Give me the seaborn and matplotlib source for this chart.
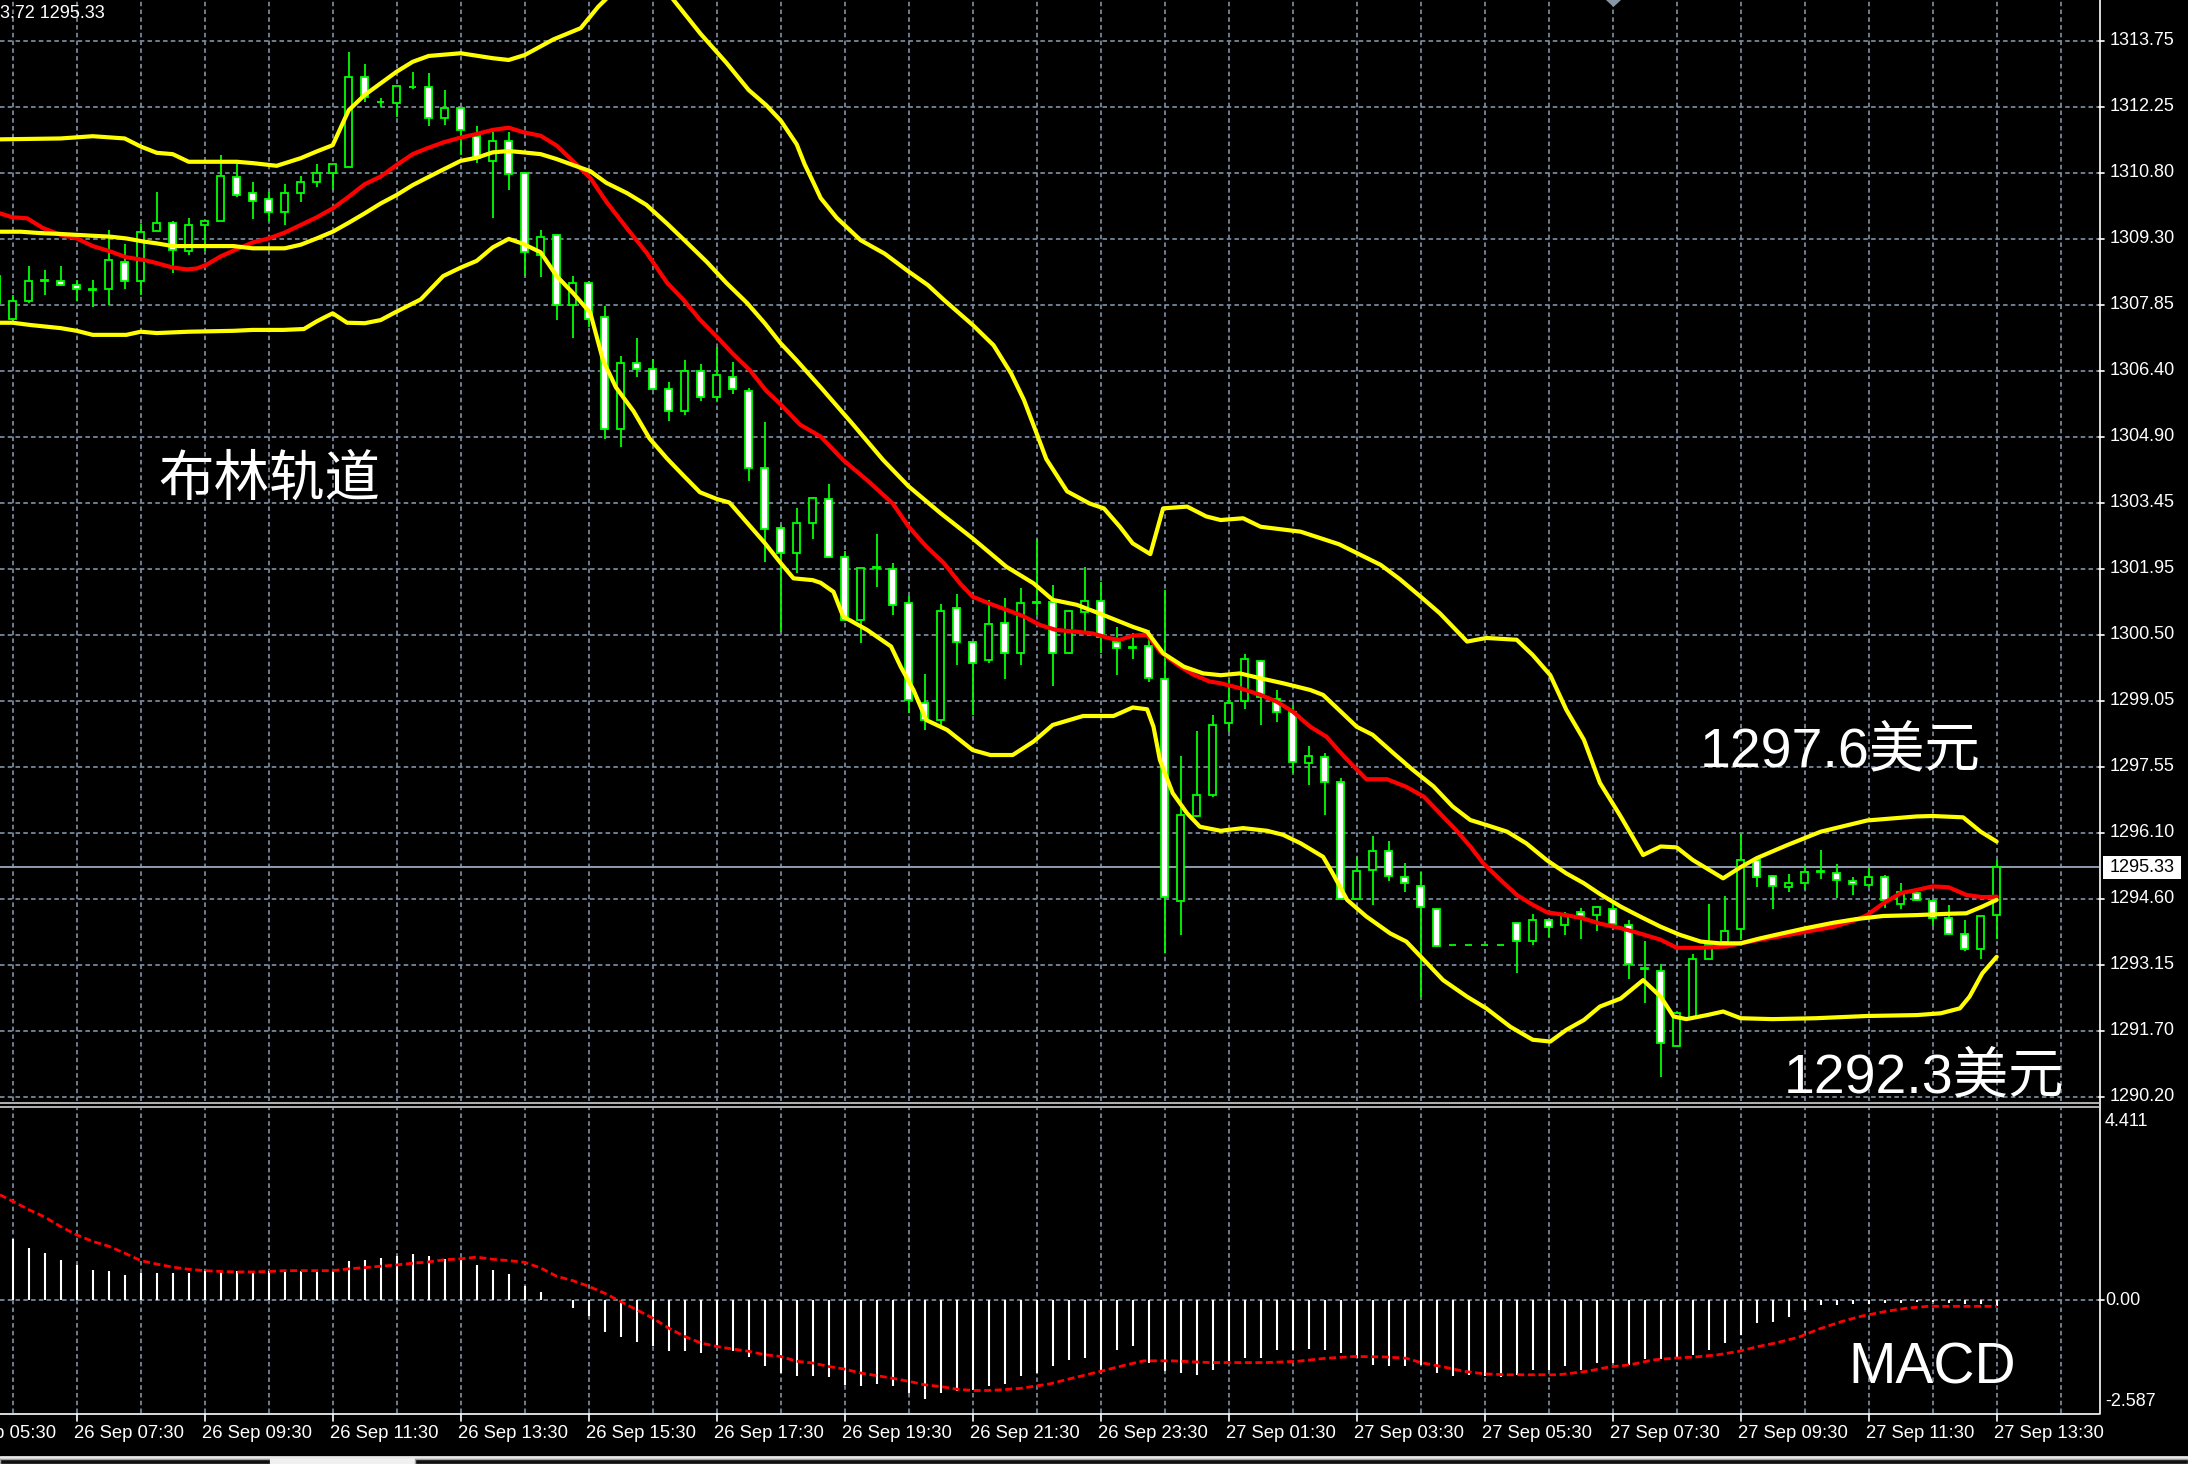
import numpy as np
import matplotlib
matplotlib.use("Agg")
import matplotlib.pyplot as plt
from matplotlib.lines import Line2D
from matplotlib.patches import Polygon, Rectangle
import seaborn as sns

# ---- candles, M15, index 0 = 26 Sep 06:30 ----
bar_idx = list(range(-1, 125))
opens = [1307.90, 1307.54, 1307.95, 1308.40, 1308.39, 1308.30, 1308.20, 1308.22, 1308.81, 1308.40,
         1309.51, 1309.69, 1309.07, 1309.64, 1309.73, 1310.72, 1310.36, 1310.23, 1309.92, 1310.36,
         1310.59, 1310.79, 1310.94, 1312.95, 1312.39, 1312.37, 1312.71, 1312.71, 1312.02, 1312.24,
         1311.63, 1311.07, 1311.52, 1310.80, 1308.96, 1309.42, 1307.86, 1308.35, 1307.59, 1305.10,
         1306.56, 1306.43, 1305.98, 1305.49, 1306.39, 1305.81, 1306.26, 1305.94, 1304.21, 1302.88,
         1302.32, 1303.00, 1303.53, 1302.24, 1300.82, 1302.00, 1301.96, 1301.22, 1298.99, 1298.59,
         1301.09, 1300.33, 1299.93, 1300.77, 1300.10, 1301.22, 1301.24, 1300.10, 1301.02, 1301.26,
         1300.35, 1300.21, 1300.24, 1299.51, 1294.57, 1296.46, 1296.93, 1298.53, 1299.03, 1299.92,
         1299.08, 1298.77, 1297.65, 1297.77, 1297.21, 1294.62, 1295.26, 1295.67, 1295.11, 1294.89,
         1294.38, 1293.58, 1293.58, 1293.58, 1293.58, 1294.07, 1293.68, 1294.13, 1294.03, 1294.31,
         1294.25, 1294.38, 1294.03, 1293.06, 1293.01, 1291.33, 1291.95, 1293.26, 1293.66, 1293.93,
         1295.47, 1295.12, 1294.87, 1294.97, 1295.22, 1295.18, 1295.01, 1294.92, 1295.11, 1294.50,
         1294.74, 1294.57, 1294.18, 1293.83, 1293.49, 1294.25]
highs = [1308.93, 1308.08, 1308.73, 1308.64, 1308.73, 1308.41, 1308.41, 1309.53, 1309.22, 1309.66,
         1310.37, 1309.74, 1309.79, 1309.75, 1311.20, 1311.02, 1310.59, 1310.37, 1310.56, 1310.73,
         1311.00, 1311.00, 1313.50, 1313.23, 1312.47, 1312.73, 1313.06, 1313.04, 1312.65, 1312.25,
         1311.84, 1311.71, 1311.71, 1310.82, 1309.52, 1309.44, 1308.50, 1308.38, 1307.83, 1306.71,
         1307.11, 1306.66, 1306.13, 1306.62, 1306.53, 1306.92, 1306.58, 1306.00, 1305.25, 1302.95,
         1303.32, 1303.58, 1303.87, 1302.38, 1302.00, 1302.75, 1302.10, 1301.37, 1299.63, 1301.19,
         1301.41, 1300.35, 1301.28, 1301.32, 1301.54, 1302.63, 1301.61, 1301.05, 1302.02, 1301.67,
         1300.68, 1300.54, 1300.60, 1301.50, 1297.80, 1298.36, 1298.71, 1299.49, 1300.07, 1299.94,
         1299.26, 1298.94, 1298.02, 1297.87, 1297.30, 1295.55, 1296.01, 1295.91, 1295.42, 1295.20,
         1294.39, 1293.58, 1293.58, 1293.58, 1293.58, 1294.08, 1294.28, 1294.16, 1294.33, 1294.40,
         1294.45, 1294.51, 1294.14, 1293.68, 1293.16, 1292.08, 1293.38, 1294.50, 1294.68, 1296.06,
         1295.48, 1295.15, 1295.17, 1295.35, 1295.70, 1295.39, 1295.11, 1295.29, 1295.15, 1294.97,
         1294.77, 1294.62, 1294.48, 1294.13, 1294.22, 1295.48]
lows = [1307.52, 1307.49, 1307.89, 1308.07, 1308.27, 1307.95, 1307.81, 1307.85, 1308.21, 1308.07,
        1309.51, 1308.56, 1308.97, 1309.05, 1309.73, 1310.26, 1309.77, 1309.72, 1309.63, 1310.16,
        1310.48, 1310.41, 1310.94, 1312.39, 1312.27, 1312.04, 1312.67, 1311.85, 1311.86, 1311.20,
        1311.03, 1309.80, 1310.43, 1308.50, 1308.47, 1307.52, 1307.13, 1307.37, 1304.87, 1304.70,
        1306.24, 1305.96, 1305.26, 1305.40, 1305.72, 1305.72, 1305.88, 1303.92, 1302.13, 1300.57,
        1301.87, 1302.63, 1302.24, 1300.80, 1300.31, 1301.56, 1300.94, 1298.75, 1298.38, 1298.49,
        1299.83, 1298.71, 1299.87, 1299.51, 1299.83, 1300.94, 1299.36, 1300.08, 1300.55, 1300.10,
        1299.61, 1299.96, 1299.45, 1293.41, 1293.81, 1296.43, 1296.88, 1298.34, 1298.84, 1298.49,
        1298.56, 1297.41, 1297.15, 1296.48, 1294.60, 1294.59, 1294.48, 1295.00, 1294.77, 1292.43,
        1293.53, 1293.58, 1293.58, 1293.58, 1293.58, 1292.95, 1293.58, 1293.76, 1293.81, 1293.71,
        1293.90, 1294.03, 1292.82, 1292.28, 1290.65, 1291.32, 1291.93, 1293.26, 1293.62, 1293.70,
        1294.87, 1294.38, 1294.77, 1294.81, 1295.05, 1294.63, 1294.70, 1294.87, 1294.40, 1294.38,
        1294.57, 1294.01, 1293.81, 1293.44, 1293.26, 1293.71]
closes = [1308.50, 1307.95, 1308.40, 1308.41, 1308.31, 1308.22, 1308.21, 1308.85, 1308.40, 1309.48,
          1309.69, 1309.08, 1309.64, 1309.73, 1310.73, 1310.32, 1310.18, 1309.92, 1310.36, 1310.59,
          1310.81, 1311.00, 1312.95, 1312.50, 1312.38, 1312.73, 1312.71, 1312.02, 1312.24, 1311.75,
          1311.14, 1311.52, 1310.77, 1309.03, 1309.37, 1307.86, 1308.35, 1307.54, 1305.10, 1306.57,
          1306.43, 1305.98, 1305.49, 1306.39, 1305.81, 1306.30, 1305.98, 1304.21, 1302.85, 1302.32,
          1303.00, 1303.55, 1302.24, 1300.82, 1301.98, 1302.01, 1301.17, 1299.05, 1298.59, 1301.04,
          1300.33, 1299.88, 1300.74, 1300.10, 1301.22, 1301.23, 1300.10, 1301.04, 1301.26, 1300.46,
          1300.20, 1300.22, 1299.53, 1294.65, 1296.48, 1296.93, 1298.49, 1298.99, 1299.96, 1299.12,
          1298.77, 1297.67, 1297.79, 1297.21, 1294.62, 1295.24, 1295.67, 1295.12, 1294.97, 1294.44,
          1293.56, 1293.58, 1293.58, 1293.58, 1293.58, 1293.68, 1294.13, 1293.99, 1294.25, 1294.22,
          1294.44, 1294.05, 1293.16, 1293.05, 1291.39, 1292.06, 1293.26, 1293.58, 1293.90, 1295.47,
          1295.09, 1294.89, 1294.97, 1295.20, 1295.23, 1295.03, 1294.94, 1295.11, 1294.59, 1294.77,
          1294.59, 1294.18, 1293.83, 1293.49, 1294.22, 1295.33]

upper_idx = [-0.8, 3, 5, 7, 8, 9, 10, 11, 14, 15, 16.5, 18, 19, 20, 21, 22, 23, 24, 25, 26, 28, 30, 31,
             32, 33.8, 35.5, 36.6, 38, 39.5, 41, 41.3, 43, 44.6, 46, 47.1, 48, 49, 49.5, 50, 50.5, 51.5,
             53, 54.5, 56, 57.2, 58.2, 60, 61.3, 62.4, 63.2, 64, 64.6, 65.9, 67.3, 68.2, 69.2, 70, 71.1,
             71.9, 73.4, 74.6, 75.5, 76.9, 78, 80.5, 82.9, 85.5, 86.7, 88, 89.2, 90.9, 92.1, 94, 95,
             96.1, 97.1, 98.2, 99.2, 100.5, 101.9, 103, 104, 105, 106.9, 108, 109, 110.9, 113, 115.9,
             119, 120, 121.9, 123, 124]
upper_val = [1311.55, 1311.57, 1311.62, 1311.57, 1311.39, 1311.25, 1311.22, 1311.05, 1311.05, 1311.02,
             1310.96, 1311.13, 1311.28, 1311.42, 1312.20, 1312.54, 1312.80, 1313.06, 1313.28, 1313.41,
             1313.47, 1313.36, 1313.32, 1313.43, 1313.78, 1314.03, 1314.51, 1315.00, 1315.20, 1314.80,
             1314.66, 1313.90, 1313.26, 1312.65, 1312.31, 1311.97, 1311.44, 1310.99, 1310.62, 1310.24,
             1309.80, 1309.30, 1309.00, 1308.60, 1308.30, 1307.97, 1307.41, 1306.96, 1306.33, 1305.74,
             1304.99, 1304.42, 1303.70, 1303.43, 1303.32, 1302.91, 1302.54, 1302.30, 1303.32, 1303.36,
             1303.14, 1303.06, 1303.10, 1302.91, 1302.80, 1302.52, 1302.06, 1301.74, 1301.35, 1300.98,
             1300.35, 1300.43, 1300.39, 1300.05, 1299.60, 1298.83, 1298.16, 1297.20, 1296.45, 1295.59,
             1295.78, 1295.76, 1295.48, 1295.07, 1295.32, 1295.52, 1295.81, 1296.11, 1296.36, 1296.45,
             1296.46, 1296.43, 1296.11, 1295.89]

mid_idx = [-0.8, 0.5, 1.7, 3, 4, 5, 6.1, 7.1, 8.2, 9, 10, 13.8, 15, 17, 18, 19, 20, 21, 22, 23, 24, 25,
           26.7, 28, 29, 30, 31, 31.9, 33, 34, 35, 36.1, 37.1, 38.4, 39.6, 40.9, 42.1, 43.4, 44.6, 45.9,
           47, 48, 49, 50.5, 52.5, 54.4, 56, 58, 60, 62.1, 63.8, 65, 66.5, 67.9, 70, 70.9, 71.9, 73.2,
           74.4, 75.5, 76.7, 78, 79.4, 81.1, 81.9, 83, 84, 85, 86.3, 87.5, 88.8, 90, 91.1, 92.1, 93.4,
           94.6, 95.9, 97.1, 98.2, 99.2, 100.5, 101.7, 103, 104.2, 105.5, 106.7, 108, 109.2, 110.7,
           112.1, 113.8, 115.2, 116.9, 119, 121, 122.1, 123.1, 124]
mid_val = [1309.49, 1309.49, 1309.46, 1309.44, 1309.42, 1309.40, 1309.38, 1309.34, 1309.27, 1309.23,
           1309.17, 1309.17, 1309.12, 1309.12, 1309.20, 1309.34, 1309.49, 1309.69, 1309.90, 1310.12,
           1310.31, 1310.53, 1310.84, 1311.07, 1311.14, 1311.26, 1311.29, 1311.26, 1311.22, 1311.11,
           1310.98, 1310.84, 1310.58, 1310.35, 1310.09, 1309.67, 1309.26, 1308.81, 1308.35, 1307.90,
           1307.45, 1307.00, 1306.62, 1306.02, 1305.20, 1304.40, 1303.81, 1303.21, 1302.65, 1302.02,
           1301.65, 1301.28, 1301.17, 1300.98, 1300.68, 1300.57, 1300.09, 1299.79, 1299.64, 1299.60,
           1299.64, 1299.53, 1299.42, 1299.27, 1299.16, 1298.79, 1298.45, 1298.27, 1297.86, 1297.49,
           1297.12, 1296.67, 1296.37, 1296.26, 1296.11, 1295.85, 1295.47, 1295.18, 1294.96, 1294.72,
           1294.44, 1294.22, 1293.99, 1293.81, 1293.66, 1293.62, 1293.62, 1293.73, 1293.85, 1293.96,
           1294.08, 1294.16, 1294.23, 1294.25, 1294.28, 1294.29, 1294.44, 1294.59]

lower_idx = [-0.8, 0, 1.1, 3, 4, 5, 7.1, 8, 9, 11, 13.8, 15, 16.9, 18.2, 19, 19.6, 20, 20.9, 22, 23,
             24, 25.5, 26.9, 28, 29, 30, 31, 31.9, 33, 34, 35, 36.1, 36.9, 37.7, 38.8, 39.8, 40.9,
             41.9, 42.95, 44, 44.8, 45.9, 47, 48, 48.8, 50, 50.5, 51.3, 51.9, 53.4, 54.9, 55.5, 56.3,
             57.1, 58.4, 60, 61.1, 62.5, 63.8, 65, 66.9, 68.8, 70, 70.9, 71.3, 71.7, 72.5, 73.4, 74.2,
             75.5, 76.9, 78.4, 79.4, 80.5, 81.9, 82.5, 83.4, 84.6, 86.1, 87.1, 88.2, 89.4, 90.9, 92.1,
             93.6, 95, 96.1, 97.1, 98.2, 99.2, 100.5, 101.9, 103, 103.8, 104.6, 105.9, 106.9, 108, 110,
             112.7, 115.9, 119, 120.5, 121.7, 122.3, 123.1, 124]
lower_val = [1307.46, 1307.46, 1307.41, 1307.34, 1307.28, 1307.19, 1307.19, 1307.26, 1307.23, 1307.26,
             1307.28, 1307.30, 1307.30, 1307.32, 1307.49, 1307.60, 1307.67, 1307.46, 1307.45, 1307.52,
             1307.71, 1307.98, 1308.50, 1308.69, 1308.84, 1309.14, 1309.33, 1309.22, 1309.03, 1308.50,
             1308.13, 1307.68, 1306.62, 1306.02, 1305.49, 1304.88, 1304.43, 1304.06, 1303.68, 1303.53,
             1303.45, 1303.00, 1302.55, 1302.10, 1301.76, 1301.72, 1301.66, 1301.46, 1300.91, 1300.61,
             1300.24, 1299.79, 1299.27, 1298.60, 1298.38, 1297.93, 1297.82, 1297.82, 1298.12, 1298.49,
             1298.69, 1298.69, 1298.88, 1298.84, 1298.45, 1297.71, 1296.97, 1296.52, 1296.22, 1296.13,
             1296.19, 1296.13, 1296.04, 1295.85, 1295.55, 1295.18, 1294.59, 1294.22, 1293.84, 1293.66,
             1293.25, 1292.80, 1292.43, 1292.17, 1291.76, 1291.47, 1291.43, 1291.69, 1291.91, 1292.21,
             1292.39, 1292.80, 1292.43, 1291.99, 1291.93, 1292.02, 1292.10, 1291.95, 1291.93, 1291.95,
             1292.00, 1292.02, 1292.06, 1292.17, 1292.43, 1292.95, 1293.32]

ma_idx = [-0.8, 0, 0.9, 1.9, 3, 4, 5, 6.1, 7.1, 8.2, 9, 10, 10.9, 11.5, 12.1, 13, 14, 15, 16, 17, 18, 19,
          20, 21, 22, 23, 24, 25, 25.9, 26.9, 28, 29, 30, 31, 31.9, 33, 34, 35, 36.1, 37.1, 38.4, 39.6,
          40.9, 41.9, 42.95, 44, 45, 46.1, 47.1, 48, 49.2, 50.5, 51.9, 53.4, 55, 56, 57.1, 58.2, 59.2,
          60, 61.1, 62.1, 63.2, 64.2, 65.2, 66.5, 67.5, 68.6, 69.2, 70, 70.9, 71.7, 72.8, 73.8, 74.8,
          75.5, 76.7, 78, 79, 80, 81.1, 82.1, 83.2, 84.6, 85.9, 87.1, 88.2, 89.2, 90.2, 91.1, 91.9, 93,
          94, 95, 95.9, 97.1, 98.2, 99.2, 100.5, 101.7, 103, 104, 105.5, 107.1, 108, 109.2, 110.7,
          112.1, 113.8, 115.2, 115.9, 116.9, 118, 119, 120, 121, 122.1, 123.1, 124]
ma_val = [1309.90, 1309.81, 1309.79, 1309.57, 1309.42, 1309.34, 1309.17, 1309.05, 1308.92, 1308.86,
          1308.79, 1308.69, 1308.65, 1308.67, 1308.75, 1308.94, 1309.10, 1309.25, 1309.34, 1309.47,
          1309.64, 1309.81, 1310.01, 1310.27, 1310.55, 1310.72, 1310.98, 1311.22, 1311.35, 1311.48,
          1311.59, 1311.67, 1311.76, 1311.81, 1311.71, 1311.63, 1311.41, 1311.07, 1310.69, 1310.16,
          1309.56, 1309.03, 1308.35, 1307.98, 1307.53, 1307.15, 1306.77, 1306.39, 1305.94, 1305.64,
          1305.19, 1304.92, 1304.40, 1303.95, 1303.43, 1302.91, 1302.47, 1302.10, 1301.65, 1301.35,
          1301.19, 1301.06, 1300.91, 1300.72, 1300.61, 1300.57, 1300.53, 1300.42, 1300.39, 1300.48,
          1300.50, 1300.13, 1299.83, 1299.61, 1299.46, 1299.42, 1299.31, 1299.16, 1299.01, 1298.79,
          1298.45, 1298.23, 1297.79, 1297.28, 1297.28, 1297.11, 1296.89, 1296.52, 1296.15, 1295.78,
          1295.41, 1295.03, 1294.70, 1294.48, 1294.31, 1294.25, 1294.17, 1294.06, 1293.96, 1293.84,
          1293.70, 1293.52, 1293.52, 1293.55, 1293.62, 1293.70, 1293.79, 1293.88, 1293.99, 1294.14,
          1294.25, 1294.51, 1294.74, 1294.81, 1294.89, 1294.87, 1294.70, 1294.65, 1294.66]

# ---- MACD ----
macd_idx = list(range(0, 125))
macd_main = [1.40, 1.21, 1.08, 0.93, 0.80, 0.70, 0.66, 0.57, 0.62, 0.62,
             0.62, 0.62, 0.66, 0.68, 0.68, 0.68, 0.68, 0.68, 0.68, 0.68,
             0.68, 0.89, 0.93, 0.97, 1.02, 1.07, 1.02, 0.94, 0.94, 0.80,
             0.70, 0.61, 0.33, 0.20, 0.01, -0.18, -0.36, -0.72, -0.85, -0.95,
             -1.06, -1.17, -1.17, -1.21, -1.06, -1.17, -1.31, -1.50, -1.67, -1.73,
             -1.73, -1.77, -1.94, -1.96, -1.92, -1.96, -2.12, -2.27, -2.13, -2.09,
             -2.05, -1.96, -1.92, -1.73, -1.67, -1.52, -1.37, -1.33, -1.60, -1.15,
             -1.06, -1.44, -1.63, -1.67, -1.71, -1.60, -1.40, -1.33, -1.33, -1.14,
             -1.14, -1.12, -1.14, -1.21, -1.33, -1.48, -1.52, -1.52, -1.48, -1.67,
             -1.73, -1.71, -1.73, -1.75, -1.71, -1.60, -1.60, -1.52, -1.60, -1.44,
             -1.44, -1.48, -1.35, -1.35, -1.33, -1.25, -1.14, -0.98, -0.79, -0.52,
             -0.49, -0.39, -0.22, -0.10, -0.11, -0.08, -0.08, -0.07, -0.07, -0.05,
             -0.05, -0.07, -0.08, -0.08, -0.14]
signal_idx = [-0.8, 0, 1, 2, 3, 4, 5, 6, 7, 8, 9, 10, 11, 12, 13, 14, 15, 16, 17, 20, 21, 22, 23, 24,
              25, 26, 27, 28, 29, 30, 31, 32, 33, 34, 35, 36, 37, 38, 39, 40, 41, 42, 43, 44, 45, 46,
              47, 48, 49, 50, 51, 52, 53, 54, 55, 56, 57, 58, 59, 60, 61, 62, 63, 64.8, 66.2, 68,
              69.4, 70.7, 72.5, 74.8, 78.4, 80.3, 82.1, 83.9, 85.7, 87.1, 88, 89.3, 90.7, 92, 93.4,
              96.6, 98.4, 99.8, 101.1, 102.5, 103.8, 105.2, 106.6, 107.9, 109.1, 110.2, 111.6, 112.9,
              114.3, 115.6, 117, 118.4, 119.7, 124]
signal_val = [2.42, 2.27, 2.08, 1.91, 1.69, 1.50, 1.35, 1.24, 1.08, 0.91, 0.83, 0.76, 0.71, 0.68,
              0.66, 0.65, 0.65, 0.66, 0.68, 0.68, 0.72, 0.75, 0.78, 0.81, 0.85, 0.88, 0.93, 0.95,
              0.99, 0.94, 0.91, 0.87, 0.74, 0.55, 0.45, 0.32, 0.16, -0.03, -0.22, -0.41, -0.64,
              -0.83, -0.98, -1.06, -1.12, -1.17, -1.25, -1.29, -1.40, -1.44, -1.52, -1.58, -1.67,
              -1.73, -1.79, -1.86, -1.94, -1.98, -2.04, -2.07, -2.07, -2.05, -2.02, -1.92, -1.79,
              -1.63, -1.50, -1.39, -1.39, -1.43, -1.43, -1.40, -1.33, -1.29, -1.30, -1.33, -1.43,
              -1.52, -1.63, -1.69, -1.71, -1.71, -1.63, -1.53, -1.48, -1.37, -1.33, -1.30, -1.25,
              -1.17, -1.06, -0.98, -0.85, -0.66, -0.49, -0.36, -0.26, -0.18, -0.14, -0.14]

# ---- axis text ----
price_tick_labels = ["1313.75", "1312.25", "1310.80", "1309.30", "1307.85", "1306.40", "1304.90",
                     "1303.45", "1301.95", "1300.50", "1299.05", "1297.55", "1296.10", "1294.60",
                     "1293.15", "1291.70", "1290.20"]
time_labels = ["26 Sep 05:30", "26 Sep 07:30", "26 Sep 09:30", "26 Sep 11:30", "26 Sep 13:30",
               "26 Sep 15:30", "26 Sep 17:30", "26 Sep 19:30", "26 Sep 21:30", "26 Sep 23:30",
               "27 Sep 01:30", "27 Sep 03:30", "27 Sep 05:30", "27 Sep 07:30", "27 Sep 09:30",
               "27 Sep 11:30", "27 Sep 13:30"]
time_label_idx = [-4, 4, 12, 20, 28, 36, 44, 52, 60, 68, 76, 84, 92, 100, 108, 116, 124]
macd_tick_labels = ["4.411", "0.00", "-2.587"]

sns.set_theme(style="dark", rc={"axes.facecolor": "black", "figure.facecolor": "black"})
plt.rcParams["font.family"] = ["Liberation Sans", "Noto Sans CJK SC", "DejaVu Sans"]

GREEN = "#00ff00"
YELLOW = "#ffff00"
RED = "#ff0000"
GRID = "#778899"
W, H = 2188, 1464

fig = plt.figure(figsize=(W / 100, H / 100), dpi=100, facecolor="black")


def fx(x):
    return x / W


def fy(y):
    return 1 - y / H


def panel(x0, y0, x1, y1):
    a = fig.add_axes([fx(x0), fy(y1), (x1 - x0) / W, (y1 - y0) / H])
    a.set_facecolor("black")
    for s in a.spines.values():
        s.set_visible(False)
    a.set_xticks([])
    a.set_yticks([])
    a.grid(False)
    return a


AX_R = 2099
PX = 1.471875 / 66            # price per pixel
P_TOP = 1313.75 + 40.7 * PX
P_BOT = P_TOP - 1101 * PX
XL = (-12.7 / 16, (AX_R - 12.7) / 16)

ax = panel(0, 0, AX_R, 1101)
ax.set_xlim(*XL)
ax.set_ylim(P_BOT, P_TOP)
ax2 = panel(0, 1108, AX_R, 1413)
ax2.set_xlim(*XL)
ax2.set_ylim(-2.587, 4.411)

dash = (0, (2.5, 1.8))
price_ticks = np.linspace(1313.75, 1290.20, len(price_tick_labels))
for p in price_ticks:
    ax.axhline(p, color=GRID, lw=1.3, ls=dash, zorder=0)
for k in range(0, 131, 4):
    ax.axvline(k, color=GRID, lw=1.3, ls=dash, zorder=0)
    ax2.axvline(k, color=GRID, lw=1.3, ls=dash, zorder=0)
ax2.axhline(0, color=GRID, lw=1.3, ls=dash, zorder=0)

# current price line
ax.axhline(closes[-1], color="#8f9db0", lw=1.4, zorder=1)

# candles
idx = np.array(bar_idx, dtype=float)
o, h, l, c = map(np.array, (opens, highs, lows, closes))
ax.vlines(idx, l, h, color=GREEN, lw=1.3, zorder=2)
face = np.where(c < o, "white", "black")
ax.bar(idx, np.maximum(np.abs(c - o), 0.004), bottom=np.minimum(o, c), width=0.47,
       color=face, edgecolor=GREEN, linewidth=1.3, zorder=3)

# indicators
sns.lineplot(x=ma_idx, y=ma_val, ax=ax, color=RED, lw=3.0, sort=False, estimator=None,
             legend=False, zorder=4)
for xs, ys in ((upper_idx, upper_val), (mid_idx, mid_val), (lower_idx, lower_val)):
    sns.lineplot(x=xs, y=ys, ax=ax, color=YELLOW, lw=3.0, sort=False, estimator=None,
                 legend=False, zorder=5)

ax2.vlines(macd_idx, 0, macd_main, color="white", lw=1.5, zorder=2)
sns.lineplot(x=signal_idx, y=signal_val, ax=ax2, color=RED, lw=2.0, linestyle=(0, (2.5, 1.3)),
             sort=False, estimator=None, legend=False, zorder=3)
for a in (ax, ax2):
    a.set_xlabel("")
    a.set_ylabel("")


# frame lines
def hline(y, x0, x1, color="#d0d0d0", lw=1.2):
    fig.add_artist(Line2D([fx(x0), fx(x1)], [fy(y), fy(y)], color=color, lw=lw))


def vline(x, y0, y1, color="white", lw=1.2):
    fig.add_artist(Line2D([fx(x), fx(x)], [fy(y0), fy(y1)], color=color, lw=lw))


vline(AX_R + 0.5, 0, 1414)
hline(1102.7, 0, AX_R)
hline(1106.7, 0, AX_R)
hline(1413.5, 0, AX_R, color="white")

# price axis labels
for p, lab in zip(price_ticks, price_tick_labels):
    yy = (P_TOP - p) / PX
    hline(yy, AX_R, AX_R + 5, color="white")
    fig.text(fx(2110), fy(yy), lab, color="white", fontsize=13, ha="left", va="center")

# MACD labels
for yy, lab in zip((1121.7, 1300.3, 1401.7), macd_tick_labels):
    fig.text(fx(2105), fy(yy), lab, color="white", fontsize=13, ha="left", va="center")
hline(1300.3, AX_R, AX_R + 5, color="white")

# time axis
for k, lab in zip(time_label_idx, time_labels):
    xx = 12.7 + 16 * k
    vline(xx, 1414, 1421)
    fig.text(fx(xx - 3), fy(1434), lab, color="white", fontsize=13.3, ha="left", va="center")

# current price box
fig.add_artist(Rectangle((fx(2103), fy(879)), 78 / W, 23 / H, transform=fig.transFigure,
                         facecolor="white", edgecolor="none"))
fig.text(fx(2142), fy(867.5), "1295.33", color="black", fontsize=13, ha="center", va="center")

# header text and shift marker
fig.text(fx(0), fy(14), "3.72 1295.33", color="white", fontsize=13, ha="left", va="center")
fig.add_artist(Polygon([(fx(1606), fy(0)), (fx(1621), fy(0)), (fx(1613.5), fy(7))],
                       closed=True, transform=fig.transFigure, facecolor="#8895a5", edgecolor="none"))

# annotations
fig.text(fx(158), fy(496), "布林轨道", color="white", fontsize=40, ha="left", va="baseline")
fig.text(fx(1700), fy(766), "1297.6美元", color="white", fontsize=40, ha="left", va="baseline")
fig.text(fx(1784), fy(1092), "1292.3美元", color="white", fontsize=40, ha="left", va="baseline")
fig.text(fx(1848), fy(1384), "MACD", color="white", fontsize=41, ha="left", va="baseline")

# bottom tab strip
hline(1456.5, 0, W, color="#e8e8e8", lw=2.0)
fig.add_artist(Rectangle((fx(0), fy(1464)), 270 / W, 5 / H, transform=fig.transFigure,
                         facecolor="#101010", edgecolor="#a0a0a0", lw=1.0))
fig.add_artist(Rectangle((fx(270), fy(1464)), 145 / W, 6 / H, transform=fig.transFigure,
                         facecolor="#f0f0f0", edgecolor="none"))
fig.add_artist(Rectangle((fx(415), fy(1464)), (W - 415) / W, 5 / H, transform=fig.transFigure,
                         facecolor="#101010", edgecolor="#a0a0a0", lw=1.0))

fig.savefig("out.png", dpi=100, facecolor="black")
